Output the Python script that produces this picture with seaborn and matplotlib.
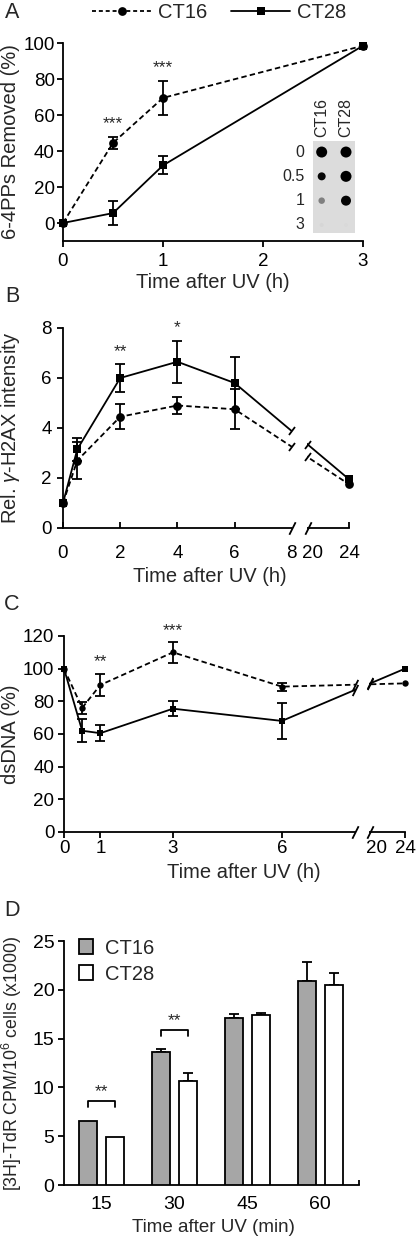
import numpy as np
import pandas as pd
import matplotlib
matplotlib.use('Agg')
import matplotlib.pyplot as plt
import matplotlib.transforms as mtransforms
from matplotlib.lines import Line2D
from matplotlib.markers import MarkerStyle
from matplotlib.patches import Rectangle, Patch
import seaborn as sns

# ---------------- data ----------------
series = ['CT16', 'CT28']

# Panel A: 6-4PPs removed (%)
a_time = [0, 0.5, 1, 3]
a_ct16 = [0, 44.5, 69.5, 98.5]
a_ct16_err = [0, 3.5, 9.5, 0]
a_ct28 = [0, 5.5, 32, 98.5]
a_ct28_err = [0, 6.5, 5, 0]
a_sig_time = [0.5, 1]
a_sig_text = ['***', '***']

# Panel A inset: dot blot
blot_rows = ['0', '0.5', '1', '3']
blot_ct16_size = [11, 8, 6.5, 4]
blot_ct16_gray = [0.0, 0.03, 0.5, 0.84]
blot_ct28_size = [11, 11, 10, 4]
blot_ct28_gray = [0.0, 0.0, 0.02, 0.85]

# Panel B: Rel. gamma-H2AX intensity
b_time = [0, 0.5, 2, 4, 6, 24]
b_ct16 = [1.0, 2.7, 4.45, 4.9, 4.75, 1.75]
b_ct16_err = [0, 0.75, 0.5, 0.35, 0.8, 0]
b_ct28 = [1.0, 3.15, 6.0, 6.65, 5.8, 1.95]
b_ct28_err = [0, 0.45, 0.55, 0.85, 1.05, 0]
b_sig_time = [2, 4]
b_sig_text = ['**', '*']

# Panel C: dsDNA (%)
c_time = [0, 0.5, 1, 3, 6, 24]
c_ct16 = [100, 76, 90, 110, 89, 91]
c_ct16_err = [0, 3.8, 7, 6.5, 2.5, 0]
c_ct28 = [100, 62, 60.5, 75.5, 68, 100]
c_ct28_err = [0, 7, 5, 4.7, 11, 0]
c_sig_time = [1, 3]
c_sig_text = ['**', '***']

# Panel D: [3H]-TdR incorporation
d_time = ['15', '30', '45', '60']
d_ct16 = [6.6, 13.65, 17.1, 20.95]
d_ct16_err = [0, 0.25, 0.45, 1.85]
d_ct28 = [4.95, 10.7, 17.4, 20.45]
d_ct28_err = [0, 0.75, 0.2, 1.25]
d_sig_groups = [0, 1]
d_sig_text = ['**', '**']

# ---------------- style ----------------
sns.set_style('ticks')
plt.rcParams['font.family'] = ['Liberation Sans', 'DejaVu Sans']
plt.rcParams['mathtext.fontset'] = 'custom'
plt.rcParams['mathtext.rm'] = 'Liberation Sans'
plt.rcParams['mathtext.it'] = 'Liberation Sans:italic'
plt.rcParams['axes.linewidth'] = 1.3
plt.rcParams['xtick.major.width'] = 1.3
plt.rcParams['ytick.major.width'] = 1.3
plt.rcParams['xtick.major.size'] = 4.5
plt.rcParams['ytick.major.size'] = 4.5
plt.rcParams['xtick.color'] = 'black'
plt.rcParams['ytick.color'] = 'black'
plt.rcParams['axes.edgecolor'] = 'black'

W, H = 416, 1240
fig = plt.figure(figsize=(W / 100, H / 100), dpi=100)

TICK_FS = 13.5
LAB_FS = 14.5
STAR_FS = 12.5


def axes_px(l, t, r, b):
    return fig.add_axes([l / W, 1 - b / H, (r - l) / W, (b - t) / H])


def set_labels(ax, box, xlabel, ylabel, xlab_px, ylab_px, xlab_fs=LAB_FS, ylab_fs=LAB_FS):
    l, t, r, b = box
    ax.set_xlabel(xlabel, fontsize=xlab_fs, va='center')
    ax.xaxis.set_label_coords((xlab_px[0] - l) / (r - l), (b - xlab_px[1]) / (b - t))
    ax.set_ylabel(ylabel, fontsize=ylab_fs, va='center')
    ax.yaxis.set_label_coords((ylab_px - l) / (r - l), 0.5)


def long_df(time, v16, v28):
    return pd.DataFrame({
        'time': list(time) * 2,
        'value': list(v16) + list(v28),
        'line': ['CT16'] * len(time) + ['CT28'] * len(time),
    })


def draw_lines(ax, time, v16, e16, v28, e28, ms, dash):
    df = long_df(time, v16, v28)
    sns.lineplot(data=df, x='time', y='value', hue='line', style='line',
                 palette={'CT16': 'black', 'CT28': 'black'},
                 markers={'CT16': 'o', 'CT28': 's'},
                 dashes={'CT16': dash, 'CT28': ''},
                 markersize=ms, markeredgewidth=0, linewidth=1.3,
                 errorbar=None, legend=False, ax=ax, clip_on=False, zorder=3)
    for vals, errs in ((v16, e16), (v28, e28)):
        xs = [t for t, e in zip(time, errs) if e > 0]
        ys = [v for v, e in zip(vals, errs) if e > 0]
        es = [e for e in errs if e > 0]
        ax.errorbar(xs, ys, yerr=es, fmt='none', ecolor='black',
                    elinewidth=1.3, capsize=3.5, capthick=1.3, zorder=3)


def make_scale(gap, slope):
    def fwd(x):
        x = np.asarray(x, dtype=float)
        return np.where(x <= 8, x, np.where(x < 20, 8 + (x - 8) * gap / 12,
                                            8 + gap + (x - 20) * slope))

    def inv(t):
        t = np.asarray(t, dtype=float)
        return np.where(t <= 8, t, np.where(t < 8 + gap, 8 + (t - 8) * 12 / gap,
                                            20 + (t - 8 - gap) / slope))
    return fwd, inv


def add_break(ax, inv, t_left, t_right):
    blend = mtransforms.blended_transform_factory(ax.transData, ax.transAxes)
    xl = float(inv(t_left + 0.02))
    xr = float(inv(t_right - 0.02))
    ax.add_patch(Rectangle((xl, -0.04), xr - xl, 1.1, transform=blend,
                           facecolor='white', edgecolor='none', zorder=5,
                           clip_on=False))
    for tt in (t_left, t_right):
        ax.plot([float(inv(tt))], [0], transform=blend, marker=[(-0.5, -1), (0.5, 1)],
                markersize=9, linestyle='none', color='black', mec='black',
                mew=1.3, clip_on=False, zorder=6)


def line_break_caps(ax, inv, t_left, t_right, time, vals, kind):
    """Small caps where a connecting line enters / leaves the axis break."""
    fig.canvas.draw()
    p1 = ax.transData.transform((time[-2], vals[-2]))
    p2 = ax.transData.transform((time[-1], vals[-1]))
    ang = np.degrees(np.arctan2(p2[1] - p1[1], p2[0] - p1[0]))
    for tt in (t_left, t_right):
        xd = ax.transData.transform((float(inv(tt)), 0))[0]
        f = (xd - p1[0]) / (p2[0] - p1[0])
        pd_ = p1 + f * (p2 - p1)
        if kind == 'T':
            m = MarkerStyle('|', transform=mtransforms.Affine2D().rotate_deg(ang))
            ax.plot([pd_[0]], [pd_[1]], transform=None, marker=m, ms=7,
                    mew=1.3, color='black', ls='none', zorder=6, clip_on=False)
        else:
            ax.plot([pd_[0]], [pd_[1]], transform=None, marker=[(-0.5, -1), (0.5, 1)],
                    ms=8, mew=1.3, color='black', mec='black', ls='none',
                    zorder=6, clip_on=False)


def panel_letter(txt, y_px):
    fig.text(12 / W, 1 - y_px / H, txt, fontsize=15.5, ha='center', va='center')


# ---------------- Panel A ----------------
boxA = (63, 43, 363, 241)
axA = axes_px(*boxA)
draw_lines(axA, a_time, a_ct16, a_ct16_err, a_ct28, a_ct28_err, ms=6.3, dash=(3, 1.8))
axA.set_xlim(0, 3)
axA.set_ylim(-10, 100)
axA.set_xticks([0, 1, 2, 3])
axA.set_yticks([0, 20, 40, 60, 80, 100])
axA.tick_params(axis='both', direction='out', labelsize=TICK_FS)
axA.tick_params(axis='y', pad=1.5)
axA.tick_params(axis='x', pad=4)
sns.despine(ax=axA)
for t, s in zip(a_sig_time, a_sig_text):
    i = a_time.index(t)
    axA.text(t, a_ct16[i] + a_ct16_err[i] + 3, s, ha='center', va='bottom', fontsize=STAR_FS)
set_labels(axA, boxA, 'Time after UV (h)', '6-4PPs Removed (%)', (213, 283), 11)

# inset dot blot
axI = fig.add_axes([313 / W, 1 - 233 / H, 42 / W, 92 / H])
axI.set_facecolor('#dcdcdc')
for sp in axI.spines.values():
    sp.set_visible(False)
axI.set_xticks([])
axI.set_yticks([])
axI.set_xlim(-0.357, 1.37)
axI.set_ylim(3.33, -0.454)
rows_idx = np.arange(len(blot_rows))
for col, (sizes, grays) in enumerate(((blot_ct16_size, blot_ct16_gray),
                                      (blot_ct28_size, blot_ct28_gray))):
    axI.scatter([col] * len(blot_rows), rows_idx,
                s=[(d * 0.72) ** 2 for d in sizes],
                c=[str(g) for g in grays], edgecolors='none', zorder=3)
    axI.text(col, -0.6, series[col], rotation=90, ha='center', va='bottom',
             fontsize=11.5)
for i, r in enumerate(blot_rows):
    axI.text(-0.72, i, r, ha='right', va='center', fontsize=11.5)

# top legend
handles = [Line2D([], [], color='black', ls=(0, (2.2, 1.6)), lw=1.3, marker='o', ms=6.3, mew=0),
           Line2D([], [], color='black', ls='-', lw=1.3, marker='s', ms=6.3, mew=0)]
fig.legend(handles, series, loc='center', bbox_to_anchor=(0.527, 1 - 13 / H), ncol=2,
           frameon=False, fontsize=14.5, handlelength=2.9, columnspacing=1.2,
           handletextpad=0.35)
panel_letter('A', 13)

# ---------------- Panel B ----------------
boxB = (63, 328, 349, 528)
axB = axes_px(*boxB)
fB, iB = make_scale(0.74, 0.315)
axB.set_xscale('function', functions=(fB, iB))
draw_lines(axB, b_time, b_ct16, b_ct16_err, b_ct28, b_ct28_err, ms=6.3, dash=(3, 1.8))
axB.set_xlim(0, 24)
axB.set_ylim(0, 8)
axB.set_xticks([0, 2, 4, 6, 8, 20, 24])
axB.set_xticklabels(['0', '2', '4', '6', '8', '20', '24'])
axB.xaxis.set_minor_locator(matplotlib.ticker.NullLocator())
axB.set_yticks([0, 2, 4, 6, 8])
axB.tick_params(axis='x', direction='in', labelsize=TICK_FS, pad=12)
axB.tick_params(axis='y', direction='out', labelsize=TICK_FS, pad=3.5)
for k in (4, 5):
    axB.xaxis.get_major_ticks()[k].tick1line.set_visible(False)
sns.despine(ax=axB)
add_break(axB, iB, 8.0, 8.56)
line_break_caps(axB, iB, 8.0, 8.56, b_time, b_ct16, 'T')
line_break_caps(axB, iB, 8.0, 8.56, b_time, b_ct28, 'T')
for t, s in zip(b_sig_time, b_sig_text):
    i = b_time.index(t)
    axB.text(t, b_ct28[i] + b_ct28_err[i] + 0.2, s, ha='center', va='bottom', fontsize=STAR_FS)
set_labels(axB, boxB, 'Time after UV (h)', r'Rel. $\it{\gamma}$-H2AX intensity', (210, 577), 11)
panel_letter('B', 297)

# ---------------- Panel C ----------------
boxC = (64, 636, 405, 832)
axC = axes_px(*boxC)
fC, iC = make_scale(0.6, 0.1975)
axC.set_xscale('function', functions=(fC, iC))
draw_lines(axC, c_time, c_ct16, c_ct16_err, c_ct28, c_ct28_err, ms=4.6, dash=(3, 1.8))
axC.set_xlim(0, 24)
axC.set_ylim(0, 120)
axC.set_xticks([0, 1, 3, 6, 20, 24])
axC.set_xticklabels(['0', '1', '3', '6', '20', '24'])
axC.xaxis.set_minor_locator(matplotlib.ticker.NullLocator())
axC.set_yticks([0, 20, 40, 60, 80, 100, 120])
axC.tick_params(axis='x', direction='out', labelsize=TICK_FS, pad=1.5)
axC.tick_params(axis='y', direction='out', labelsize=TICK_FS, pad=2.5)
axC.xaxis.get_major_ticks()[4].tick1line.set_visible(False)
sns.despine(ax=axC)
add_break(axC, iC, 8.02, 8.43)
line_break_caps(axC, iC, 8.02, 8.43, c_time, c_ct16, 'S')
line_break_caps(axC, iC, 8.02, 8.43, c_time, c_ct28, 'S')
for t, s in zip(c_sig_time, c_sig_text):
    i = c_time.index(t)
    axC.text(t, c_ct16[i] + c_ct16_err[i] + 2.5, s, ha='center', va='bottom', fontsize=STAR_FS)
set_labels(axC, boxC, 'Time after UV (h)', 'dsDNA (%)', (244, 873), 11)
panel_letter('C', 605)

# ---------------- Panel D ----------------
boxD = (64, 941, 359, 1185)
axD = axes_px(*boxD)
dfD = long_df(d_time, d_ct16, d_ct28)
sns.barplot(data=dfD, x='time', y='value', hue='line',
            palette={'CT16': '#a6a6a6', 'CT28': 'white'},
            edgecolor='black', linewidth=1.3, width=0.74, gap=0.33,
            errorbar=None, legend=False, ax=axD, zorder=3)
for cont, errs in zip(axD.containers, (d_ct16_err, d_ct28_err)):
    for bar, e in zip(cont, errs):
        if e > 0:
            xc = bar.get_x() + bar.get_width() / 2
            axD.errorbar([xc], [bar.get_height()], yerr=[[0], [e]], fmt='none',
                         ecolor='black', elinewidth=1.3, capsize=3.5, capthick=1.3,
                         zorder=2)
axD.set_xlim(-0.51, 3.53)
axD.set_ylim(0, 25)
axD.set_yticks([0, 5, 10, 15, 20, 25])
axD.tick_params(axis='x', length=0, labelsize=14, pad=8)
axD.tick_params(axis='y', direction='out', labelsize=14, pad=2.5)
sns.despine(ax=axD)
axD.plot([1, 1], [0, 0.022], transform=axD.transAxes, color='black', lw=1.3,
         clip_on=False, solid_capstyle='butt')
for gi, s in zip(d_sig_groups, d_sig_text):
    b1 = axD.containers[0][gi]
    b2 = axD.containers[1][gi]
    x1 = b1.get_x() + b1.get_width() / 2
    x2 = b2.get_x() + b2.get_width() / 2
    top = max(b1.get_height() + d_ct16_err[gi], b2.get_height() + d_ct28_err[gi])
    yb = top + 2.0
    axD.plot([x1, x1, x2, x2], [yb - 0.6, yb, yb, yb - 0.6], color='black', lw=1.3)
    axD.text((x1 + x2) / 2, yb + 0.15, s, ha='center', va='bottom', fontsize=STAR_FS)
legD = axD.legend(handles=[Patch(facecolor='#a6a6a6', edgecolor='black', lw=1.3),
                           Patch(facecolor='white', edgecolor='black', lw=1.3)],
                  labels=series, loc='upper left', bbox_to_anchor=(0.05, 1.01),
                  frameon=False, fontsize=14.5, handlelength=0.72, handleheight=0.72,
                  handletextpad=0.6, labelspacing=0.35, borderpad=0, borderaxespad=0)
set_labels(axD, boxD, 'Time after UV (min)', '[3H]-TdR CPM/10$^6$ cells (x1000)',
           (213, 1228), 12, xlab_fs=13.5, ylab_fs=12.8)
panel_letter('D', 910)

fig.savefig('out.png', dpi=100)
